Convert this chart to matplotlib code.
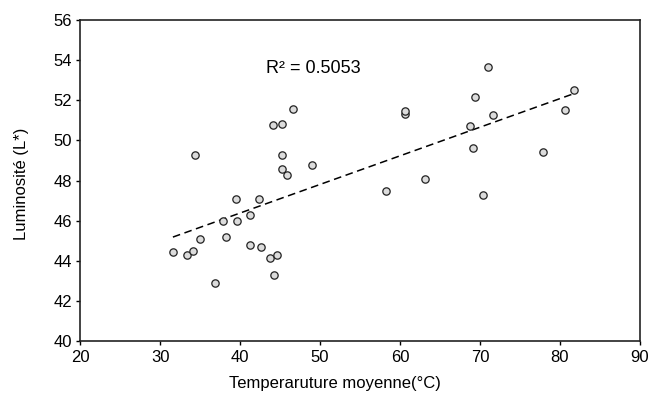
import numpy as np
import matplotlib.pyplot as plt

plt.rcParams['font.family'] = ['Liberation Sans', 'DejaVu Sans']

# mean temperature (°C) and lightness L*
temp = [31.6, 33.4, 34.1, 35.0, 36.9, 38.2, 37.9, 39.6, 39.5, 41.2,
        41.2, 42.4, 42.65, 43.8, 44.6, 44.2, 34.3, 44.15, 45.2, 46.65,
        45.2, 45.3, 45.9, 49.0, 71.06, 69.4, 81.7, 60.6, 60.6, 71.6,
        80.6, 68.7, 69.1, 77.9, 63.1, 58.3, 70.35]
lum = [44.45, 44.3, 44.5, 45.07, 42.9, 45.2, 46.0, 46.0, 47.1, 46.3,
       44.8, 47.06, 44.7, 44.14, 44.3, 43.3, 49.29, 50.75, 50.8, 51.55,
       49.29, 48.56, 48.3, 48.8, 53.64, 52.15, 52.5, 51.3, 51.45, 51.27,
       51.5, 50.73, 49.64, 49.44, 48.07, 47.5, 47.27]
r2_label = 'R² = 0.5053'

x = np.array(temp)
y = np.array(lum)
slope, intercept = np.polyfit(x, y, 1)

fig = plt.figure(figsize=(6.57, 4.0), dpi=100)
ax = fig.add_axes([0.122, 0.147, 0.852, 0.803])

xs = np.array([x.min(), x.max()])
ax.plot(xs, slope * xs + intercept, color='black', linestyle=(0, (5, 3)), linewidth=1.1)
ax.scatter(x, y, s=28, facecolor='#dcdcdc', edgecolor='#222222', linewidth=0.9, zorder=3)

ax.text(43.3, 53.6, r2_label, fontsize=13, va='center', ha='left')

ax.set_xlim(20, 90)
ax.set_ylim(40, 56)
ax.set_xticks(range(20, 91, 10))
ax.set_yticks(range(40, 57, 2))
ax.tick_params(direction='out', length=3, width=1, labelsize=12, pad=3)
for sp in ax.spines.values():
    sp.set_linewidth(1.2)
    sp.set_color('#222222')

ax.set_xlabel('Temperaruture moyenne(°C)', fontsize=12)
ax.xaxis.set_label_coords(0.456, -0.108)
ax.xaxis.label.set_va('top')
ax.set_ylabel('Luminosité (L*)', fontsize=12)
ax.yaxis.set_label_coords(-0.091, 0.49)

fig.savefig('out.png', dpi=100)
